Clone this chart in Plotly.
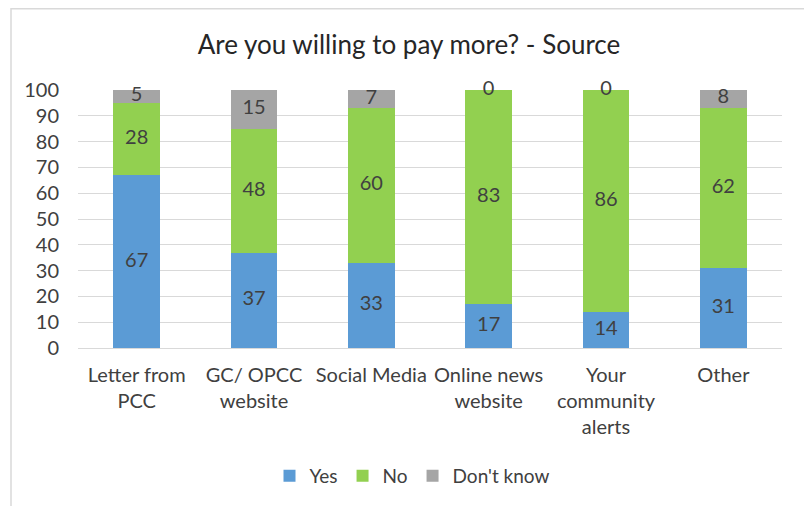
import plotly.graph_objects as go

categories = ["Letter from<br>PCC", "GC/ OPCC<br>website", "Social Media",
              "Online news<br>website", "Your<br>community<br>alerts", "Other"]
yes = [67, 37, 33, 17, 14, 31]
no = [28, 48, 60, 83, 86, 62]
dont_know = [5, 15, 7, 0, 0, 8]

series = [("Yes", yes, "#5b9bd5"), ("No", no, "#92d050"), ("Don't know", dont_know, "#a5a5a5")]

FONT = "Lato"
fig = go.Figure()
for name, vals, col in series:
    fig.add_trace(go.Bar(x=categories, y=vals, name=name, marker=dict(color=col, line=dict(width=0)),
                         width=0.4))

# data labels centred in each segment
base = [0] * len(categories)
for name, vals, col in series:
    mids = [b + v / 2 for b, v in zip(base, vals)]
    fig.add_trace(go.Scatter(x=categories, y=mids, mode="text", text=[str(v) for v in vals],
                             textfont=dict(family=FONT, size=20, color="#404040"),
                             showlegend=False, hoverinfo="skip", cliponaxis=False))
    base = [b + v for b, v in zip(base, vals)]

# page body adds an 8px offset; figure coordinates = reference pixels - 8
OFF = 8
W, H = 812 - OFF, 506 - OFF
L, R, T, B = 78 - OFF, W - (782 - OFF), 90 - OFF, H - (348 - OFF)
pw, ph = W - L - R, H - T - B

def px_x(p):
    return (p - OFF - L) / pw

def px_y(p):
    return (H - B - (p - OFF)) / ph

fig.update_layout(
    width=W, height=H,
    margin=dict(l=L, r=R, t=T, b=B, autoexpand=False),
    paper_bgcolor="white", plot_bgcolor="white",
    barmode="stack",
    font=dict(family=FONT, size=20, color="#404040"),
    title=dict(text="Are you willing to pay more? - Source", x=(409 - OFF) / W, xanchor="center",
               y=1 - (45 - OFF) / H, yanchor="middle", yref="container",
               font=dict(family=FONT, size=26, color="#262626")),
    legend=dict(orientation="h", x=(412 - OFF) / W, xanchor="center", xref="container",
                y=1 - (476 - OFF) / H, yanchor="middle", yref="container",
                font=dict(family=FONT, size=19, color="#404040"), traceorder="normal",
                itemwidth=30),
    showlegend=True,
    shapes=[
        dict(type="rect", xref="paper", yref="paper", x0=px_x(11), x1=px_x(805),
             y0=px_y(530), y1=px_y(8.8), line=dict(color="#d9d9d9", width=1.5),
             fillcolor="rgba(0,0,0,0)", layer="below"),
    ],
)
fig.update_yaxes(range=[0, 100], dtick=10, showgrid=True, gridcolor="#d9d9d9", gridwidth=1,
                 zeroline=True, zerolinecolor="#d9d9d9", zerolinewidth=1, showline=False,
                 ticks="", ticklabelstandoff=18, automargin=False,
                 tickfont=dict(family=FONT, size=20, color="#404040"))
fig.update_xaxes(showgrid=False, showline=False, ticks="", ticklabelstandoff=13, automargin=False,
                 tickfont=dict(family=FONT, size=20, color="#404040"))

fig.write_html("out.html")
